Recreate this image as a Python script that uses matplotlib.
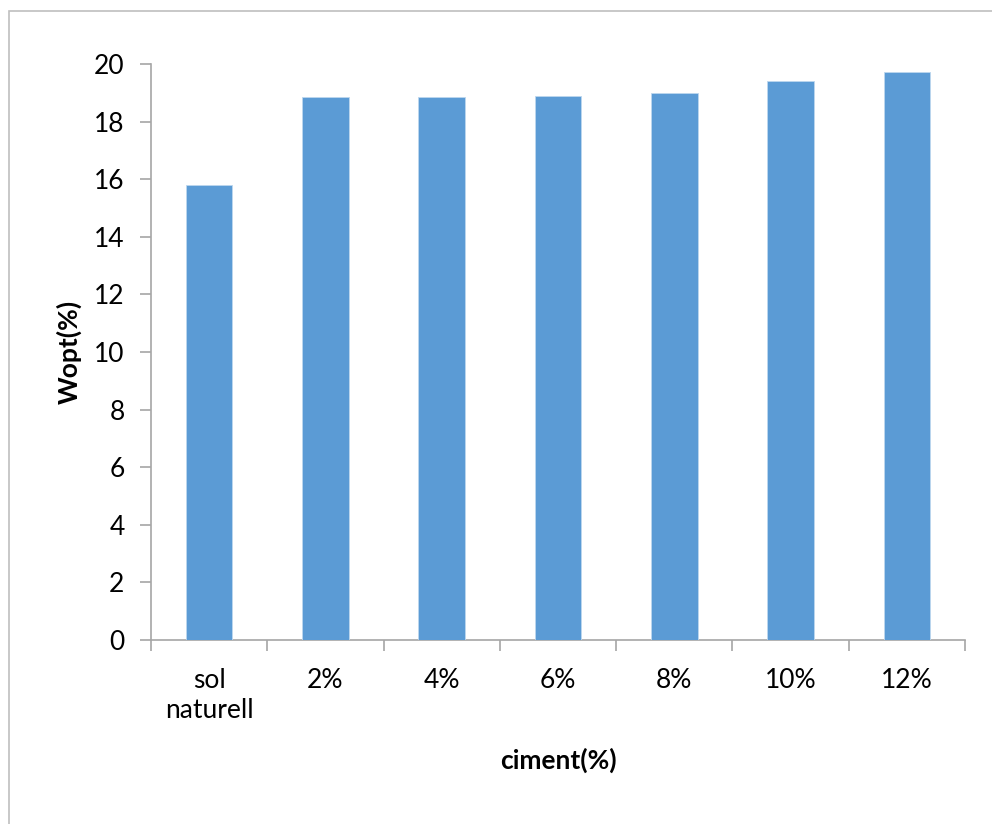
import matplotlib
matplotlib.use("Agg")
import matplotlib.pyplot as plt
from matplotlib.patches import Rectangle

categories = ["sol\nnaturell", "2%", "4%", "6%", "8%", "10%", "12%"]
values = [15.8, 18.85, 18.85, 18.9, 19.0, 19.4, 19.72]
yticks = [0, 2, 4, 6, 8, 10, 12, 14, 16, 18, 20]

plt.rcParams['font.family'] = ['Lato', 'DejaVu Sans']
FS = 19

fig = plt.figure(figsize=(9.92, 8.24), dpi=100)
fig.patch.set_facecolor('white')
# outer chart frame
fig.add_artist(Rectangle((9/992, -0.05), 1.1, 1 - 11/824 + 0.05, transform=fig.transFigure,
                         fill=False, edgecolor='#bfbfbf', linewidth=1.2))

ax = fig.add_axes([151/992, 1 - 640/824, (965 - 151)/992, (640 - 64)/824])
x = list(range(len(categories)))
ax.bar(x, values, width=0.4, color='#5b9bd5', edgecolor='#bdd7ee', linewidth=0.6, zorder=3)

ax.set_xlim(-0.5, len(categories) - 0.5)
ax.set_ylim(0, 20)
ax.set_yticks(yticks)
ax.set_yticklabels([str(v) for v in yticks], fontsize=FS)

bounds = [i - 0.5 for i in range(len(categories) + 1)]
ax.set_xticks(bounds)
ax.set_xticklabels([''] * len(bounds))
ax.set_xticks(x, minor=True)
ax.set_xticklabels(categories, minor=True, fontsize=FS, linespacing=1.25)
ax.tick_params(axis='x', which='minor', length=0, pad=20)
ax.tick_params(axis='x', which='major', length=8, width=1.2, color='#a6a6a6', direction='out')
ax.tick_params(axis='y', length=8, width=1.2, color='#a6a6a6', direction='out', pad=11)

for s in ['top', 'right']:
    ax.spines[s].set_visible(False)
for s in ['left', 'bottom']:
    ax.spines[s].set_color('#a6a6a6')
    ax.spines[s].set_linewidth(1.2)

ax.set_ylabel('Wopt(%)', fontsize=FS, fontweight='bold', labelpad=9)
ax.set_xlabel('ciment(%)', fontsize=FS, fontweight='bold', labelpad=18)

fig.savefig('out.png', dpi=100, facecolor='white')
